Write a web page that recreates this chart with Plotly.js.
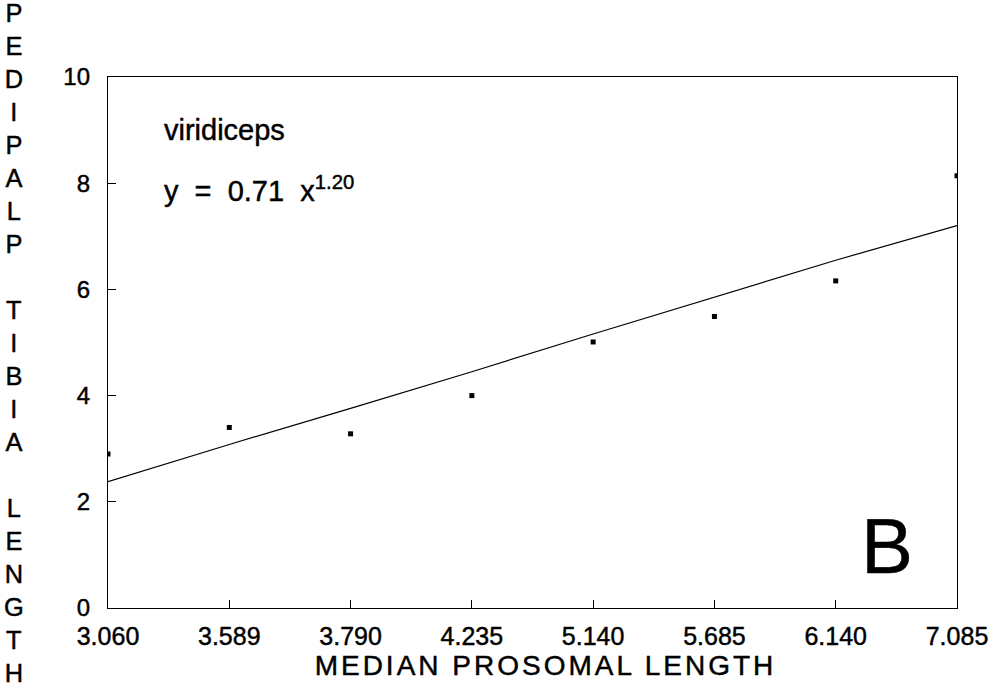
<!DOCTYPE html>
<html>
<head>
<meta charset="utf-8">
<script src="https://cdn.plot.ly/plotly-3.0.1.min.js"></script>
<style>
  html, body { margin: 0; padding: 0; background: #fff; }
  #chart { width: 1001px; height: 691px; }
  .xtitle { letter-spacing: 3px; transform: translateX(13px); }
  #chart svg text { stroke: #000; stroke-width: 0.45px; }
</style>
</head>
<body>
<div id="chart"></div>
<script>
// Category tick labels (median prosomal length)
const xCategories = ["3.060", "3.589", "3.790", "4.235", "5.140", "5.685", "6.140", "7.085"];
// Observed pedipalp tibia length
const observedValues = [2.90, 3.40, 3.28, 4.00, 5.01, 5.49, 6.16, 8.14];
// Fitted curve values read at each category
const fittedValues = [2.38, 3.08, 3.76, 4.45, 5.16, 5.86, 6.55, 7.20];
const yTickValues = [0, 2, 4, 6, 8, 10];
const yTitleText = "PEDIPALP TIBIA LENGTH";
const xTitleText = "MEDIAN PROSOMAL LENGTH";
const speciesLabel = "viridiceps";
const equationLabel = "y  =  0.71  x<sup>1.20</sup>";
const panelLabel = "B";

const FONT = "Liberation Sans, Arial, Helvetica, sans-serif";

const traces = [
  {
    x: xCategories,
    y: fittedValues,
    type: "scatter",
    mode: "lines",
    line: { color: "#000", width: 1.2 },
    showlegend: false,
    hoverinfo: "skip"
  },
  {
    x: xCategories,
    y: observedValues,
    type: "scatter",
    mode: "markers",
    marker: { color: "#000", size: 5, symbol: "square" },
    showlegend: false
  }
];

const yTitleStacked = yTitleText.split("").map(c => c === " " ? "\u00a0" : c).join("<br>");

const layout = {
  width: 1001,
  height: 691,
  paper_bgcolor: "#fff",
  plot_bgcolor: "#fff",
  margin: { l: 108, r: 44, t: 77, b: 83 },
  font: { family: FONT, color: "#000" },
  xaxis: {
    type: "category",
    range: [0, 7],
    tickvals: xCategories,
    ticktext: xCategories,
    showgrid: false,
    zeroline: false,
    showline: true,
    mirror: true,
    linecolor: "#000",
    linewidth: 1.2,
    ticks: "inside",
    ticklen: 8,
    tickwidth: 1.2,
    tickcolor: "#000",
    ticklabelstandoff: 6,
    tickfont: { family: FONT, size: 25, color: "#000" },
    title: {
      text: xTitleText,
      font: { family: FONT, size: 28, color: "#000" },
      standoff: 6
    },
    automargin: false
  },
  yaxis: {
    range: [0, 10],
    tickvals: yTickValues,
    showgrid: false,
    zeroline: false,
    showline: true,
    mirror: true,
    linecolor: "#000",
    linewidth: 1.2,
    ticks: "inside",
    ticklen: 8,
    tickwidth: 1.2,
    tickcolor: "#000",
    ticklabelstandoff: 12,
    tickfont: { family: FONT, size: 24, color: "#000" },
    automargin: false
  },
  annotations: [
    {
      text: yTitleStacked,
      xref: "paper", yref: "paper",
      x: -0.1107, y: 0.499,
      xanchor: "center", yanchor: "middle",
      showarrow: false,
      align: "center",
      font: { family: FONT, size: 25.4, color: "#000" }
    },
    {
      text: speciesLabel,
      xref: "paper", yref: "paper",
      x: 0.0635, y: 0.900,
      xanchor: "left", yanchor: "middle",
      showarrow: false,
      font: { family: FONT, size: 29, color: "#000" }
    },
    {
      text: equationLabel,
      xref: "paper", yref: "paper",
      x: 0.0635, y: 0.790,
      xanchor: "left", yanchor: "middle",
      showarrow: false,
      font: { family: FONT, size: 29, color: "#000" }
    },
    {
      text: panelLabel,
      xref: "paper", yref: "paper",
      x: 0.9175, y: 0.117,
      xanchor: "center", yanchor: "middle",
      showarrow: false,
      font: { family: FONT, size: 78, color: "#000" }
    }
  ]
};

Plotly.newPlot("chart", traces, layout, { staticPlot: true, displayModeBar: false });
</script>
</body>
</html>
